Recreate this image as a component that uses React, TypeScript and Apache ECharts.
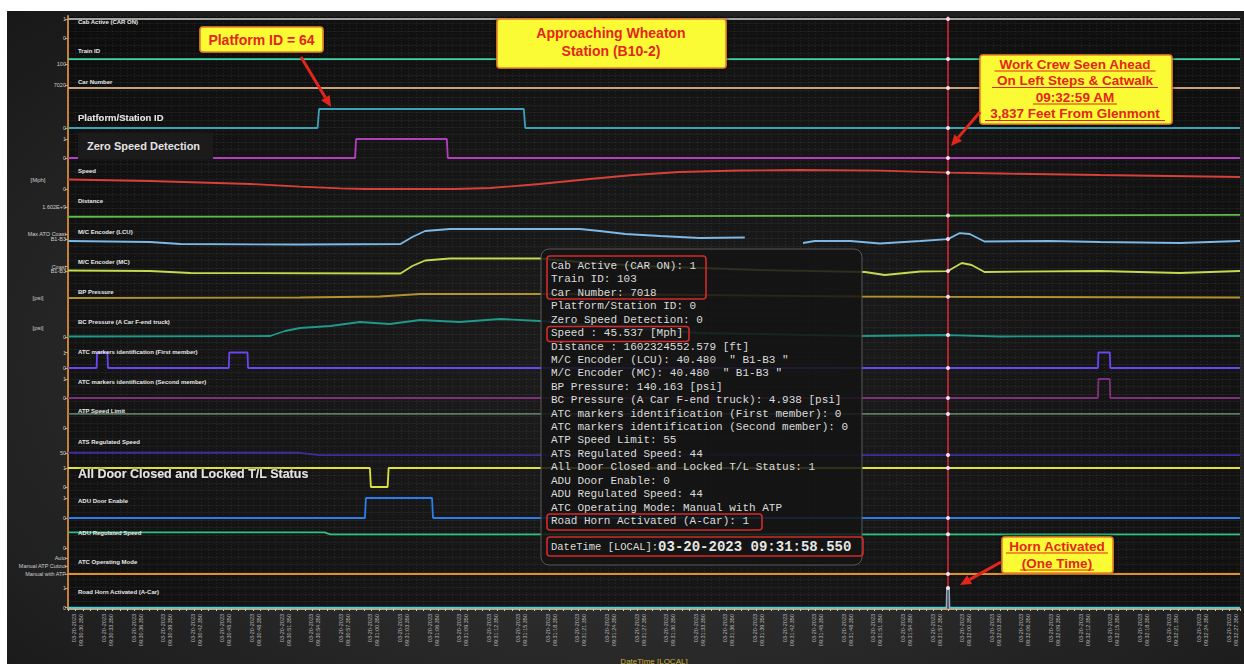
import React, { useEffect, useRef } from "react";
import * as echarts from "echarts";

// ---- page / plot geometry (page pixels) ----
const CHART_X = 7;
const CHART_Y = 11;
const CHART_W = 1237;
const CHART_H = 653;
const PLOT_LEFT = 68;
const PLOT_RIGHT = 1240;
const PLOT_TOP = 16;
const PLOT_BOTTOM = 609;

// ---- time axis (seconds from start of the window) ----
const T_MAX = 118.8;
const CURSOR_T = 89.2;
const DATE_TEXT = "03-20-2023";
const START_MS = ((9 * 60 + 30) * 60 + 29.35) * 1000;
const xTickSeconds = Array.from({ length: 40 }, (_, i) => 1 + 3 * i);

// ---- recorded signals: [seconds, value] ----
const cabActive = [[0, 1], [CURSOR_T, 1], [T_MAX, 1]];
const trainId = [[0, 103], [CURSOR_T, 103], [T_MAX, 103]];
const carNumber = [[0, 7018], [CURSOR_T, 7018], [T_MAX, 7018]];
const platformId = [[0, 0], [25.3, 0], [25.45, 64], [46.2, 64], [46.35, 0], [CURSOR_T, 0], [T_MAX, 0]];
const zeroSpeed = [[0, 0], [29.1, 0], [29.2, 1], [38.4, 1], [38.5, 0], [CURSOR_T, 0], [T_MAX, 0]];
const speedMph = [
  [0, 26.5], [8.3, 22.3], [18.5, 13.9], [23.5, 6.4], [27.6, 2], [30.1, 0], [39.2, 0], [42.8, 2.8],
  [47.8, 13.9], [52.9, 27.9], [57.3, 39], [62, 47.4], [68.1, 51.6], [74.2, 53], [82.3, 51],
  [CURSOR_T, 45.537], [94.5, 43.2], [104.6, 39], [T_MAX, 33.5],
];
const distanceFt = [
  [0, 1602321900], [30, 1602322750], [39, 1602322750], [60, 1602323400],
  [CURSOR_T, 1602324552.579], [T_MAX, 1602326400],
];
const encoderLcu = [
  [0, 31.8], [8.3, 27.3], [11.4, 18.2], [23.5, 15.9], [33.7, 18.2], [34.9, 50], [36.2, 77.3],
  [38.7, 86.4], [51.9, 86.4], [53.9, 77.3], [56.5, 63.6], [60, 54.5], [64, 45.5], [68.6, 47.7],
  [71, null], [74.5, 22.7], [75.7, 31.8], [79.3, 31.8], [82.3, 20.5], [86.4, 31.8],
  [CURSOR_T, 40.48], [90.4, 68], [91.4, 63.6], [92.9, 29.5], [99.5, 31.8], [104.6, 27.3],
  [112.7, 22.7], [T_MAX, 31.8],
];
const encoderMc = [
  [0, 43.2], [8.3, 40.9], [12.4, 31.8], [33.7, 29.5], [34.9, 63.6], [36.2, 88.6], [38.7, 97.7],
  [47.8, 97.7], [51.9, 81.8], [58, 63.6], [70.1, 45.5], [80.8, 36.4], [82.8, 22.7], [86.4, 38.6],
  [CURSOR_T, 40.48], [90.6, 77.3], [91.6, 68.2], [92.9, 36.4], [104.6, 40.9], [112.7, 31.8],
  [T_MAX, 40.9],
];
const bpPressure = [
  [0, 139], [23.5, 139.5], [31.6, 140.5], [35.7, 143], [47.8, 143], [64, 142], [80.3, 140.5],
  [CURSOR_T, 140.163], [T_MAX, 139.5],
];
const bcPressure = [
  [0, 1.25], [20.5, 2.5], [22, 15], [23.5, 22.5], [26.6, 27.5], [29.6, 37.5], [32.6, 32.5],
  [35.7, 42.5], [39.7, 37.5], [43.8, 45], [47.8, 40], [53.9, 27.5], [64, 10], [80.3, 2.5],
  [CURSOR_T, 4.938], [94.5, 1.25], [T_MAX, 2.5],
];
const atcMarkerFirst = [
  [0, 0], [2.9, 0], [2.95, 1], [4.0, 1], [4.05, 0], [16.3, 0], [16.35, 1], [18.2, 1], [18.25, 0],
  [CURSOR_T, 0], [104.4, 0], [104.45, 1], [105.6, 1], [105.65, 0], [T_MAX, 0],
];
const atcMarkerSecond = [[0, 0], [CURSOR_T, 0], [104.4, 0], [104.45, 1], [105.6, 1], [105.65, 0], [T_MAX, 0]];
const atpSpeedLimit = [[0, 55], [CURSOR_T, 55], [T_MAX, 55]];
const atsRegSpeed = [[0, 50], [23.5, 50], [25.5, 44], [CURSOR_T, 44], [T_MAX, 44]];
const doorsClosed = [[0, 1], [30.6, 1], [30.7, 0], [32.4, 0], [32.5, 1], [CURSOR_T, 1], [T_MAX, 1]];
const aduDoorEnable = [[0, 0], [30.1, 0], [30.2, 1], [36.9, 1], [37.0, 0], [CURSOR_T, 0], [T_MAX, 0]];
const aduRegSpeed = [[0, 50], [26.0, 50], [26.6, 44], [CURSOR_T, 44], [T_MAX, 44]];
const atcMode = [[0, 1], [CURSOR_T, 1], [T_MAX, 1]];
const roadHorn = [[0, 0], [89.05, 0], [89.1, 1], [CURSOR_T, 1], [89.3, 1], [89.35, 0], [T_MAX, 0]];

const atcModeNames = ["Yard", "Manual with ATP", "Manual ATP Cutout", "Auto"];

// ---- lane layout ----
type Lane = {
  name: string;
  data: (number | null)[][];
  color: string;
  top: number;
  bottom: number;
  min: number;
  max: number;
  ticks: [number, string][];
  labelY: number;
  labelSize?: number;
  boxed?: boolean;
  unit?: string;
  unitY?: number;
};

const lanes: Lane[] = [
  { name: "Cab Active (CAR ON)", data: cabActive, color: "#a2a2a2", top: 19, bottom: 38, min: 0, max: 1, ticks: [[0, "0"], [1, "1"]], labelY: 22 },
  { name: "Train ID", data: trainId, color: "#3fd6a6", top: 45.7, bottom: 70.7, min: 96, max: 111, ticks: [[100, "100"]], labelY: 51 },
  { name: "Car Number", data: carNumber, color: "#c9a27e", top: 73, bottom: 94, min: 7014, max: 7028, ticks: [[7020, "7020"]], labelY: 82 },
  { name: "Platform/Station ID", data: platformId, color: "#3ba3b8", top: 107, bottom: 128, min: 0, max: 70.7, ticks: [[0, "0"]], labelY: 117, labelSize: 9.5 },
  { name: "Zero Speed Detection", data: zeroSpeed, color: "#b43ec0", top: 139, bottom: 158, min: 0, max: 1, ticks: [[0, "0"], [1, "1"]], labelY: 146, labelSize: 11, boxed: true },
  { name: "Speed", data: speedMph, color: "#d8413a", top: 163, bottom: 189, min: 0, max: 72.5, ticks: [[0, "0"]], labelY: 171, unit: "[Mph]", unitY: 180 },
  { name: "Distance", data: distanceFt, color: "#5cbc4a", top: 200, bottom: 222, min: 1602310000, max: 1602360000, ticks: [[1602344000, "1.602E+9"]], labelY: 201 },
  { name: "M/C Encoder (LCU)", data: encoderLcu, color: "#7cb9e6", top: 226, bottom: 248, min: 0, max: 100, ticks: [[82, "Max ATO, ATO P1 *"], [64, "Max ATO Coast"], [41, "B1-B3"], [20, "B4-B6"]], labelY: 232 },
  { name: "M/C Encoder (MC)", data: encoderMc, color: "#c6da4e", top: 258, bottom: 280, min: 0, max: 100, ticks: [[82, "P1 Max"], [61, "Coast"], [41, "B1-B3"], [20, "B5"]], labelY: 262 },
  { name: "BP Pressure", data: bpPressure, color: "#b3922c", top: 285, bottom: 303, min: 134, max: 152, ticks: [], labelY: 292, unit: "[psi]", unitY: 298 },
  { name: "BC Pressure (A Car F-end truck)", data: bcPressure, color: "#20998a", top: 312, bottom: 337, min: 0, max: 62.5, ticks: [[0, "0"]], labelY: 322, unit: "[psi]", unitY: 328 },
  { name: "ATC markers identification (First member)", data: atcMarkerFirst, color: "#6b46f2", top: 352.5, bottom: 368, min: 0, max: 1, ticks: [[0, "0"], [1, "1"]], labelY: 352 },
  { name: "ATC markers identification (Second member)", data: atcMarkerSecond, color: "#80307a", top: 379, bottom: 398, min: 0, max: 1, ticks: [[0, "0"], [1, "1"]], labelY: 382 },
  { name: "ATP Speed Limit", data: atpSpeedLimit, color: "#5b7c62", top: 405, bottom: 428, min: 0, max: 90, ticks: [[0, "0"]], labelY: 411 },
  { name: "ATS Regulated Speed", data: atsRegSpeed, color: "#3d2e9e", top: 437, bottom: 472, min: 0, max: 91, ticks: [[50, "50"]], labelY: 442 },
  { name: "All Door Closed and Locked T/L Status", data: doorsClosed, color: "#dfe13e", top: 468, bottom: 487, min: 0, max: 1, ticks: [[0, "0"], [1, "1"]], labelY: 474, labelSize: 12.5 },
  { name: "ADU Door Enable", data: aduDoorEnable, color: "#2b7de9", top: 498, bottom: 518, min: 0, max: 1, ticks: [[0, "0"], [1, "1"]], labelY: 501 },
  { name: "ADU Regulated Speed", data: aduRegSpeed, color: "#2fc27e", top: 520, bottom: 548, min: 0, max: 90, ticks: [[0, "0"]], labelY: 533 },
  { name: "ATC Operating Mode", data: atcMode, color: "#e2902c", top: 558, bottom: 582, min: 0, max: 3, ticks: [[1, atcModeNames[1]], [2, atcModeNames[2]], [3, atcModeNames[3]]], labelY: 562 },
  { name: "Road Horn Activated (A-Car)", data: roadHorn, color: "#46cfe0", top: 588, bottom: 607.7, min: 0, max: 1, ticks: [[0, "0"], [1, "1"]], labelY: 592 },
];

const pad = (n: number, w = 2) => String(n).padStart(w, "0");
function clock(t: number): string {
  const ms = Math.round(START_MS + t * 1000);
  const h = Math.floor(ms / 3600000);
  const m = Math.floor((ms % 3600000) / 60000);
  const s = Math.floor((ms % 60000) / 1000);
  return `${pad(h)}:${pad(m)}:${pad(s)}.${pad(ms % 1000, 3)}`;
}

function valueAt(data: (number | null)[][], t: number): number {
  const p = data.find((d) => d[0] === t);
  return p ? (p[1] as number) : 0;
}

const RED = "#e3261c";
const cx = (x: number) => x - CHART_X;
const cy = (y: number) => y - CHART_Y;

function text(t: string, x: number, y: number, font: string, fill: string, align = "left", extra: any = {}, z = 60) {
  return {
    type: "text",
    z,
    silent: true,
    style: {
      text: t, x: cx(x), y: cy(y), font, fill,
      align, textAlign: align, verticalAlign: "middle", textVerticalAlign: "middle",
      ...extra,
    },
  };
}

function arrow(x1: number, y1: number, x2: number, y2: number) {
  const a = Math.atan2(y2 - y1, x2 - x1);
  const len = 11;
  const half = 5;
  const bx = x2 - len * Math.cos(a);
  const by = y2 - len * Math.sin(a);
  const nx = -Math.sin(a);
  const ny = Math.cos(a);
  return [
    { type: "line", z: 70, silent: true, shape: { x1: cx(x1), y1: cy(y1), x2: cx(bx), y2: cy(by) }, style: { stroke: RED, lineWidth: 3 } },
    {
      type: "polygon", z: 70, silent: true,
      shape: { points: [[cx(x2), cy(y2)], [cx(bx + nx * half), cy(by + ny * half)], [cx(bx - nx * half), cy(by - ny * half)]] },
      style: { fill: RED },
    },
  ];
}

function calloutBox(x: number, y: number, w: number, h: number) {
  return {
    type: "rect", z: 65, silent: true,
    shape: { x: cx(x), y: cy(y), width: w, height: h, r: 3 },
    style: { fill: "#fbfb36", stroke: "#e8822a", lineWidth: 1.6, shadowBlur: 4, shadowColor: "rgba(0,0,0,0.6)" },
  };
}

function underline(x1: number, x2: number, y: number) {
  return { type: "line", z: 75, silent: true, shape: { x1: cx(x1), y1: cy(y), x2: cx(x2), y2: cy(y) }, style: { stroke: RED, lineWidth: 1.2 } };
}

function buildOption() {
  const grids: any[] = [];
  const xAxes: any[] = [];
  const yAxes: any[] = [];
  const series: any[] = [];

  // background plot: fine grid, left and bottom axes, time labels
  grids.push({
    left: PLOT_LEFT - CHART_X, right: CHART_W - (PLOT_RIGHT - CHART_X),
    top: PLOT_TOP - CHART_Y, bottom: CHART_H - (PLOT_BOTTOM - CHART_Y),
    show: true, backgroundColor: "rgba(0,0,0,0.5)", borderWidth: 0, containLabel: false, outerBoundsMode: "none",
  });
  xAxes.push({
    type: "value", gridIndex: 0, min: 0, max: T_MAX, interval: 0.75,
    axisLine: { show: false }, axisLabel: { show: false },
    axisTick: { show: true, length: 2, lineStyle: { color: "#d9cdb8", width: 1 } },
    splitLine: { show: true, lineStyle: { color: "rgba(255,255,255,0.08)", width: 1, type: [1, 2] } },
  });
  xAxes.push({
    type: "value", gridIndex: 0, min: 0, max: T_MAX, position: "bottom",
    axisLine: { show: true, onZero: false, lineStyle: { color: "#c9a47a", width: 2 } },
    axisTick: { show: false },
    splitLine: { show: false },
    axisLabel: {
      show: true, customValues: xTickSeconds, rotate: 90, margin: 5,
      fontSize: 5.5, lineHeight: 7, color: "#b8b8b8", fontFamily: "Liberation Sans, Arial",
      formatter: (v: number) => `${DATE_TEXT}\n${clock(v)}`,
    },
    name: "DateTime [LOCAL]", nameLocation: "middle", nameGap: 48,
    nameTextStyle: { color: "#c9b13c", fontSize: 8, fontFamily: "Liberation Sans, Arial" },
  });
  yAxes.push({
    type: "value", gridIndex: 0, min: 0, max: 80, interval: 1,
    axisLine: { show: true, onZero: false, lineStyle: { color: "#c5803a", width: 2 } },
    axisTick: { show: false }, axisLabel: { show: false },
    splitLine: { show: true, lineStyle: { color: "rgba(255,255,255,0.045)", width: 1 } },
  });
  series.push({
    type: "line", xAxisIndex: 0, yAxisIndex: 0, z: 3, silent: true,
    data: [[CURSOR_T, 0]], symbol: "none", lineStyle: { opacity: 0 },
    markLine: {
      silent: true, symbol: "none", label: { show: false },
      lineStyle: { color: "#e0283a", width: 1.5, type: "solid" },
      data: [{ xAxis: CURSOR_T }],
    },
  });

  lanes.forEach((ln, i) => {
    grids.push({
      left: PLOT_LEFT - CHART_X, right: CHART_W - (PLOT_RIGHT - CHART_X),
      top: ln.top - CHART_Y, height: ln.bottom - ln.top,
      containLabel: false, outerBoundsMode: "none",
    });
    xAxes.push({ type: "value", gridIndex: i + 1, min: 0, max: T_MAX, show: false });
    const tickVals = ln.ticks.map((t) => t[0]);
    yAxes.push({
      type: "value", gridIndex: i + 1, min: ln.min, max: ln.max,
      axisLine: { show: false },
      axisTick: { show: tickVals.length > 0, customValues: tickVals, length: 3, lineStyle: { color: "#c8a070" } },
      axisLabel: {
        show: tickVals.length > 0, customValues: tickVals, margin: 2,
        fontSize: 5.5, color: "#cfcfcf", fontFamily: "Liberation Sans, Arial",
        formatter: (v: number) => {
          const f = ln.ticks.find((t) => Math.abs(t[0] - v) < 1e-6 * Math.max(1, Math.abs(v)));
          return f ? f[1] : "";
        },
      },
      splitLine: { show: false },
    });
    series.push({
      type: "line", name: ln.name, xAxisIndex: i + 2, yAxisIndex: i + 1, z: 4,
      data: ln.data, symbol: "none", showSymbol: false, clip: false, silent: true,
      connectNulls: false,
      lineStyle: { color: ln.color, width: 1.8 }, itemStyle: { color: ln.color },
      markPoint: {
        silent: true, symbol: "circle", symbolSize: 4,
        itemStyle: { color: "#f4dcef" }, label: { show: false },
        data: [{ coord: [CURSOR_T, valueAt(ln.data, CURSOR_T)] }],
      },
    });
  });

  // ---- texts drawn over the plot ----
  const g: any[] = [];
  lanes.forEach((ln) => {
    const size = ln.labelSize ?? 6;
    const big = ln.labelSize != null;
    g.push(text(ln.name, 78, ln.labelY, `bold ${size}px "Liberation Sans", Arial, sans-serif`, big ? "#e2e2e2" : "#e8e8e8", "left",
      ln.boxed
        ? { backgroundColor: "#1b1b1b", padding: [8, 13, 8, 9] }
        : big ? { textShadowColor: "rgba(0,0,0,0.9)", textShadowBlur: 3 } : {}));
    if (ln.unit) g.push(text(ln.unit, 38, ln.unitY as number, '6px "Liberation Sans", Arial', "#cfcfcf", "center"));
  });

  // tooltip panel for the cursor sample
  const v = (d: (number | null)[][]) => valueAt(d, CURSOR_T);
  const rows = [
    `Cab Active (CAR ON): ${v(cabActive)}`,
    `Train ID: ${v(trainId)}`,
    `Car Number: ${v(carNumber)}`,
    `Platform/Station ID: ${v(platformId)}`,
    `Zero Speed Detection: ${v(zeroSpeed)}`,
    `Speed : ${v(speedMph).toFixed(3)} [Mph]`,
    `Distance : ${v(distanceFt).toFixed(3)} [ft]`,
    `M/C Encoder (LCU): ${v(encoderLcu).toFixed(3)}  " B1-B3 "`,
    `M/C Encoder (MC): ${v(encoderMc).toFixed(3)}  " B1-B3 "`,
    `BP Pressure: ${v(bpPressure).toFixed(3)} [psi]`,
    `BC Pressure (A Car F-end truck): ${v(bcPressure).toFixed(3)} [psi]`,
    `ATC markers identification (First member): ${v(atcMarkerFirst)}`,
    `ATC markers identification (Second member): ${v(atcMarkerSecond)}`,
    `ATP Speed Limit: ${v(atpSpeedLimit)}`,
    `ATS Regulated Speed: ${v(atsRegSpeed)}`,
    `All Door Closed and Locked T/L Status: ${v(doorsClosed)}`,
    `ADU Door Enable: ${v(aduDoorEnable)}`,
    `ADU Regulated Speed: ${v(aduRegSpeed)}`,
    `ATC Operating Mode: ${atcModeNames[v(atcMode)]}`,
    `Road Horn Activated (A-Car): ${v(roadHorn)}`,
  ];
  const rowH = 13.42;
  g.push({
    type: "rect", z: 80, silent: true,
    shape: { x: cx(541), y: cy(249), width: 321, height: 316, r: 8 },
    style: { fill: "rgba(20,20,20,0.86)", stroke: "rgba(95,95,95,0.9)", lineWidth: 1 },
  });
  g.push({
    type: "text", z: 82, silent: true,
    style: {
      text: rows.join("\n"), x: cx(551), y: cy(266) - rowH / 2,
      font: '11px "Liberation Mono", "DejaVu Sans Mono", monospace', fill: "#dcdcdc",
      lineHeight: rowH, align: "left", textAlign: "left", verticalAlign: "top", textVerticalAlign: "top",
    },
  });
  g.push({
    type: "text", z: 82, silent: true,
    style: {
      text: `{a|DateTime [LOCAL]:}{b|${DATE_TEXT} ${clock(CURSOR_T)}}`,
      x: cx(551), y: cy(546.5), align: "left", textAlign: "left", verticalAlign: "middle", textVerticalAlign: "middle",
      rich: {
        a: { font: '10.5px "Liberation Mono", monospace', fill: "#dcdcdc" },
        b: { font: 'bold 14px "Liberation Mono", monospace', fill: "#e6e6e6" },
      },
    },
  });
  const redBox = (x: number, y: number, w: number, h: number) => ({
    type: "rect", z: 83, silent: true,
    shape: { x: cx(x), y: cy(y), width: w, height: h, r: 3 },
    style: { fill: "none", stroke: "#d42a2a", lineWidth: 1.6 },
  });
  g.push(redBox(547, 256, 159, 43));
  g.push(redBox(547, 326.5, 142, 15));
  g.push(redBox(547, 514, 215, 16));
  g.push(redBox(547, 537, 316, 19));

  // callouts
  const calloutFont = 'bold 14px "Liberation Sans", Arial, sans-serif';
  const calloutFontSm = 'bold 13.5px "Liberation Sans", Arial, sans-serif';
  g.push(calloutBox(200, 27, 123, 25));
  g.push(text("Platform ID = 64", 261.5, 39.5, calloutFont, RED, "center", {}, 75));
  g.push(...arrow(301, 57, 331, 107));

  g.push(calloutBox(497, 19, 229, 49));
  g.push(text("Approaching Wheaton", 611, 33, calloutFont, RED, "center", {}, 75));
  g.push(text("Station (B10-2)", 611, 50.5, calloutFont, RED, "center", {}, 75));

  g.push(calloutBox(980, 55, 192, 69));
  const crew = [
    ["Work Crew Seen Ahead", 64],
    ["On Left Steps & Catwalk", 80.5],
    ["09:32:59 AM", 97],
    ["3,837 Feet From Glenmont", 113.5],
  ] as [string, number][];
  const crewW = [161, 166, 84, 180];
  crew.forEach(([s, y], i) => {
    g.push(text(s, 1075, y, calloutFontSm, RED, "center", {}, 75));
    g.push(underline(1075 - crewW[i] / 2, 1075 + crewW[i] / 2, y + 7));
  });
  g.push(...arrow(980, 112, 951, 146));

  g.push(calloutBox(1002, 537, 111, 36));
  g.push(text("Horn Activated", 1057, 546, calloutFontSm, RED, "center", {}, 75));
  g.push(underline(1006, 1108, 553));
  g.push(text("(One Time)", 1057, 563, calloutFontSm, RED, "center", {}, 75));
  g.push(underline(1020, 1094, 570));
  g.push(...arrow(1001, 562, 960, 585));

  return {
    animation: false,
    backgroundColor: "transparent",
    textStyle: { fontFamily: "Liberation Sans, Arial, sans-serif" },
    grid: grids,
    xAxis: xAxes,
    yAxis: yAxes,
    series,
    graphic: { elements: g },
  };
}

export default function App() {
  const ref = useRef<HTMLDivElement>(null);
  useEffect(() => {
    if (!ref.current) return;
    const chart = echarts.init(ref.current, undefined, { renderer: "svg" });
    chart.setOption(buildOption() as any);
    return () => chart.dispose();
  }, []);
  return (
    <div style={{ position: "fixed", left: 0, top: 0, width: 1244, height: 664, background: "#ffffff", overflow: "hidden" }}>
      <div
        ref={ref}
        style={{
          position: "absolute", left: CHART_X, top: CHART_Y, width: CHART_W, height: CHART_H,
          background: "radial-gradient(ellipse at 52% 55%, #3a3a3a 0%, #2b2b2b 50%, #181818 100%)",
        }}
      />
    </div>
  );
}
